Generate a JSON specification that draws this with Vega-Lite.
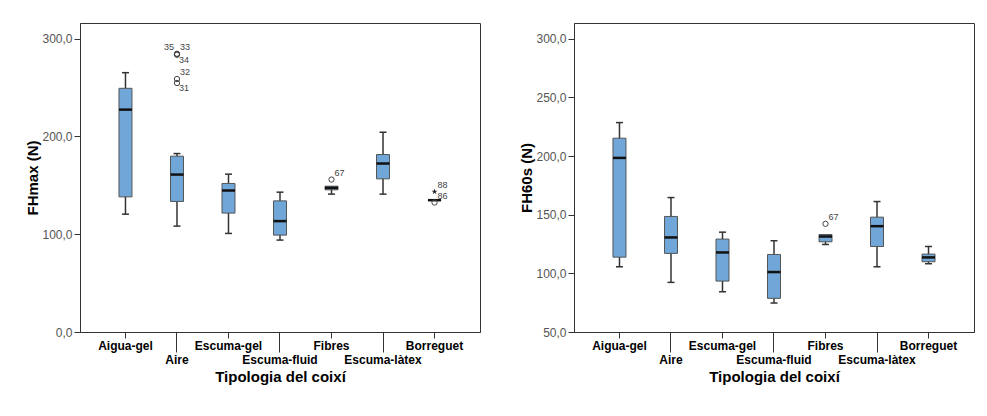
{
  "$schema": "https://vega.github.io/schema/vega-lite/v6.json",
  "padding": {"left": 25, "top": 22, "right": 5, "bottom": 5},
  "background": "#ffffff",
  "spacing": 38,
  "datasets": {
    "boxes": [
      {"var": "FHmax", "tipus": "Aigua-gel", "lo": 120.5, "q1": 138.2, "med": 227.4, "q3": 249.2, "hi": 265.2},
      {"var": "FHmax", "tipus": "Aire", "lo": 108.3, "q1": 133.5, "med": 161.0, "q3": 179.8, "hi": 182.5},
      {"var": "FHmax", "tipus": "Escuma-gel", "lo": 100.8, "q1": 121.6, "med": 144.7, "q3": 151.9, "hi": 161.4},
      {"var": "FHmax", "tipus": "Escuma-fluid", "lo": 94.0, "q1": 99.1, "med": 113.4, "q3": 134.1, "hi": 143.0},
      {"var": "FHmax", "tipus": "Fibres", "lo": 141.0, "q1": 145.4, "med": 147.4, "q3": 149.1, "hi": 149.1},
      {"var": "FHmax", "tipus": "Escuma-làtex", "lo": 141.0, "q1": 156.6, "med": 172.3, "q3": 181.5, "hi": 204.3},
      {"var": "FHmax", "tipus": "Borreguet", "lo": 134.8, "q1": 134.6, "med": 134.8, "q3": 135.0, "hi": 134.8},
      {"var": "FH60s", "tipus": "Aigua-gel", "lo": 105.6, "q1": 113.8, "med": 198.4, "q3": 215.2, "hi": 228.5},
      {"var": "FH60s", "tipus": "Aire", "lo": 92.3, "q1": 117.0, "med": 130.6, "q3": 148.5, "hi": 164.6},
      {"var": "FH60s", "tipus": "Escuma-gel", "lo": 84.3, "q1": 93.4, "med": 117.8, "q3": 129.2, "hi": 135.1},
      {"var": "FH60s", "tipus": "Escuma-fluid", "lo": 74.7, "q1": 78.7, "med": 101.1, "q3": 116.1, "hi": 127.8},
      {"var": "FH60s", "tipus": "Fibres", "lo": 124.6, "q1": 126.9, "med": 131.4, "q3": 133.1, "hi": 133.1},
      {"var": "FH60s", "tipus": "Escuma-làtex", "lo": 105.6, "q1": 122.9, "med": 140.2, "q3": 147.9, "hi": 161.2},
      {"var": "FH60s", "tipus": "Borreguet", "lo": 108.2, "q1": 109.9, "med": 113.6, "q3": 116.4, "hi": 122.9}
    ],
    "outliers": [
      {"var": "FHmax", "tipus": "Aire", "id": "35", "kind": "outlier", "value": 284.5},
      {"var": "FHmax", "tipus": "Aire", "id": "33", "kind": "outlier", "value": 284.2},
      {"var": "FHmax", "tipus": "Aire", "id": "34", "kind": "outlier", "value": 283.5},
      {"var": "FHmax", "tipus": "Aire", "id": "32", "kind": "outlier", "value": 258.7},
      {"var": "FHmax", "tipus": "Aire", "id": "31", "kind": "outlier", "value": 254.6},
      {"var": "FHmax", "tipus": "Fibres", "id": "67", "kind": "outlier", "value": 155.9},
      {"var": "FHmax", "tipus": "Borreguet", "id": "88", "kind": "extreme", "value": 143.6},
      {"var": "FHmax", "tipus": "Borreguet", "id": "86", "kind": "outlier", "value": 132.4},
      {"var": "FH60s", "tipus": "Fibres", "id": "67", "kind": "outlier", "value": 142.2}
    ]
  },
  "config": {
    "font": "Liberation Sans",
    "view": {"stroke": "#333333", "strokeWidth": 1},
    "axis": {
      "domainColor": "#333333", "tickColor": "#333333", "grid": false,
      "labelFont": "Liberation Sans", "titleFont": "Liberation Sans",
      "titleFontWeight": "bold", "titleFontSize": 15, "titleColor": "#000000"
    },
    "axisY": {"labelColor": "#555555", "labelFontSize": 12, "tickSize": 6, "labelPadding": 2, "titlePadding": 1},
    "axisX": {"labelColor": "#000000", "labelFontSize": 12, "labelFontWeight": "bold", "labelAngle": 0, "labelPadding": 2, "titlePadding": 4}
  },
  "hconcat": [
    {
      "width": 400, "height": 309,
      "encoding": {
        "x": {
          "field": "tipus", "type": "nominal",
          "scale": {"domain": ["Aigua-gel", "Aire", "Escuma-gel", "Escuma-fluid", "Fibres", "Escuma-làtex", "Borreguet"], "paddingInner": 0, "paddingOuter": 0.383},
          "axis": {"title": "Tipologia del coixí", "tickSize": {"condition": {"test": "indexof(['Aire','Escuma-fluid','Escuma-làtex'], datum.value) >= 0", "value": 20}, "value": 6}}
        }
      },
      "layer": [
        {
          "data": {"name": "boxes"}, "transform": [{"filter": "datum.var === 'FHmax'"}],
          "mark": {"type": "rule", "color": "#333333", "strokeWidth": 1.5},
          "encoding": {
            "y": {"field": "lo", "type": "quantitative", "scale": {"domain": [0, 316], "nice": false, "zero": false},
                  "axis": {"title": "FHmax (N)", "values": [0, 100, 200, 300], "labelExpr": "replace(format(datum.value, '.1f'), '.', ',')"}},
            "y2": {"field": "hi"}
          }
        },
        {
          "data": {"name": "boxes"}, "transform": [{"filter": "datum.var === 'FHmax'"}],
          "mark": {"type": "bar", "width": 13, "fill": "#70a6d8", "stroke": "#555555", "strokeWidth": 1},
          "encoding": {
            "y": {"field": "q1", "type": "quantitative", "scale": {"domain": [0, 316], "nice": false, "zero": false}},
            "y2": {"field": "q3"}
          }
        },
        {
          "data": {"name": "boxes"}, "transform": [{"filter": "datum.var === 'FHmax'"}],
          "mark": {"type": "tick", "color": "#111111", "size": 13, "thickness": 2.5, "opacity": 1},
          "encoding": {"y": {"field": "med", "type": "quantitative", "scale": {"domain": [0, 316], "nice": false, "zero": false}}}
        },
        {
          "data": {"name": "boxes"}, "transform": [{"filter": "datum.var === 'FHmax' && datum.hi > datum.q3"}],
          "mark": {"type": "tick", "color": "#333333", "size": 7, "thickness": 1.5, "opacity": 1},
          "encoding": {"y": {"field": "hi", "type": "quantitative", "scale": {"domain": [0, 316], "nice": false, "zero": false}}}
        },
        {
          "data": {"name": "boxes"}, "transform": [{"filter": "datum.var === 'FHmax' && datum.lo < datum.q1"}],
          "mark": {"type": "tick", "color": "#333333", "size": 7, "thickness": 1.5, "opacity": 1},
          "encoding": {"y": {"field": "lo", "type": "quantitative", "scale": {"domain": [0, 316], "nice": false, "zero": false}}}
        },
        {
          "data": {"name": "outliers"}, "transform": [{"filter": "datum.var === 'FHmax' && datum.kind === 'outlier'"}],
          "mark": {"type": "point", "shape": "circle", "size": 28, "filled": false, "stroke": "#444444", "strokeWidth": 1, "opacity": 1},
          "encoding": {"y": {"field": "value", "type": "quantitative", "scale": {"domain": [0, 316], "nice": false, "zero": false}}}
        },
        {
          "data": {"name": "outliers"}, "transform": [{"filter": "datum.var === 'FHmax' && datum.kind === 'extreme'"}],
          "mark": {"type": "point", "shape": "M0,-1L0.22,-0.3L0.95,-0.3L0.36,0.12L0.59,0.81L0,0.38L-0.59,0.81L-0.36,0.12L-0.95,-0.3L-0.22,-0.3Z", "size": 40, "filled": true, "color": "#222222", "opacity": 1},
          "encoding": {"y": {"field": "value", "type": "quantitative", "scale": {"domain": [0, 316], "nice": false, "zero": false}}}
        },
        {
          "data": {"name": "outliers"}, "transform": [{"filter": "datum.var === 'FHmax' && indexof(['33','32','67','88','86'], datum.id) >= 0"}],
          "mark": {"type": "text", "align": "left", "baseline": "middle", "dx": 3, "dy": -7, "fontSize": 9, "color": "#444444"},
          "encoding": {"y": {"field": "value", "type": "quantitative", "scale": {"domain": [0, 316], "nice": false, "zero": false}}, "text": {"field": "id"}}
        },
        {
          "data": {"name": "outliers"}, "transform": [{"filter": "datum.var === 'FHmax' && indexof(['34','31'], datum.id) >= 0"}],
          "mark": {"type": "text", "align": "left", "baseline": "middle", "dx": 2, "dy": 5, "fontSize": 9, "color": "#444444"},
          "encoding": {"y": {"field": "value", "type": "quantitative", "scale": {"domain": [0, 316], "nice": false, "zero": false}}, "text": {"field": "id"}}
        },
        {
          "data": {"name": "outliers"}, "transform": [{"filter": "datum.var === 'FHmax' && datum.id === '35'"}],
          "mark": {"type": "text", "align": "right", "baseline": "middle", "dx": -3, "dy": -7, "fontSize": 9, "color": "#444444"},
          "encoding": {"y": {"field": "value", "type": "quantitative", "scale": {"domain": [0, 316], "nice": false, "zero": false}}, "text": {"field": "id"}}
        }
      ]
    },
    {
      "width": 400, "height": 309,
      "encoding": {
        "x": {
          "field": "tipus", "type": "nominal",
          "scale": {"domain": ["Aigua-gel", "Aire", "Escuma-gel", "Escuma-fluid", "Fibres", "Escuma-làtex", "Borreguet"], "paddingInner": 0, "paddingOuter": 0.383},
          "axis": {"title": "Tipologia del coixí", "tickSize": {"condition": {"test": "indexof(['Aire','Escuma-fluid','Escuma-làtex'], datum.value) >= 0", "value": 20}, "value": 6}}
        }
      },
      "layer": [
        {
          "data": {"name": "boxes"}, "transform": [{"filter": "datum.var === 'FH60s'"}],
          "mark": {"type": "rule", "color": "#333333", "strokeWidth": 1.5},
          "encoding": {
            "y": {"field": "lo", "type": "quantitative", "scale": {"domain": [50, 313.4], "nice": false, "zero": false},
                  "axis": {"title": "FH60s (N)", "values": [50, 100, 150, 200, 250, 300], "labelExpr": "replace(format(datum.value, '.1f'), '.', ',')"}},
            "y2": {"field": "hi"}
          }
        },
        {
          "data": {"name": "boxes"}, "transform": [{"filter": "datum.var === 'FH60s'"}],
          "mark": {"type": "bar", "width": 13, "fill": "#70a6d8", "stroke": "#555555", "strokeWidth": 1},
          "encoding": {
            "y": {"field": "q1", "type": "quantitative", "scale": {"domain": [50, 313.4], "nice": false, "zero": false}},
            "y2": {"field": "q3"}
          }
        },
        {
          "data": {"name": "boxes"}, "transform": [{"filter": "datum.var === 'FH60s'"}],
          "mark": {"type": "tick", "color": "#111111", "size": 13, "thickness": 2.5, "opacity": 1},
          "encoding": {"y": {"field": "med", "type": "quantitative", "scale": {"domain": [50, 313.4], "nice": false, "zero": false}}}
        },
        {
          "data": {"name": "boxes"}, "transform": [{"filter": "datum.var === 'FH60s' && datum.hi > datum.q3"}],
          "mark": {"type": "tick", "color": "#333333", "size": 7, "thickness": 1.5, "opacity": 1},
          "encoding": {"y": {"field": "hi", "type": "quantitative", "scale": {"domain": [50, 313.4], "nice": false, "zero": false}}}
        },
        {
          "data": {"name": "boxes"}, "transform": [{"filter": "datum.var === 'FH60s' && datum.lo < datum.q1"}],
          "mark": {"type": "tick", "color": "#333333", "size": 7, "thickness": 1.5, "opacity": 1},
          "encoding": {"y": {"field": "lo", "type": "quantitative", "scale": {"domain": [50, 313.4], "nice": false, "zero": false}}}
        },
        {
          "data": {"name": "outliers"}, "transform": [{"filter": "datum.var === 'FH60s'"}],
          "mark": {"type": "point", "shape": "circle", "size": 28, "filled": false, "stroke": "#444444", "strokeWidth": 1, "opacity": 1},
          "encoding": {"y": {"field": "value", "type": "quantitative", "scale": {"domain": [50, 313.4], "nice": false, "zero": false}}}
        },
        {
          "data": {"name": "outliers"}, "transform": [{"filter": "datum.var === 'FH60s'"}],
          "mark": {"type": "text", "align": "left", "baseline": "middle", "dx": 3, "dy": -7, "fontSize": 9, "color": "#444444"},
          "encoding": {"y": {"field": "value", "type": "quantitative", "scale": {"domain": [50, 313.4], "nice": false, "zero": false}}, "text": {"field": "id"}}
        }
      ]
    }
  ]
}
